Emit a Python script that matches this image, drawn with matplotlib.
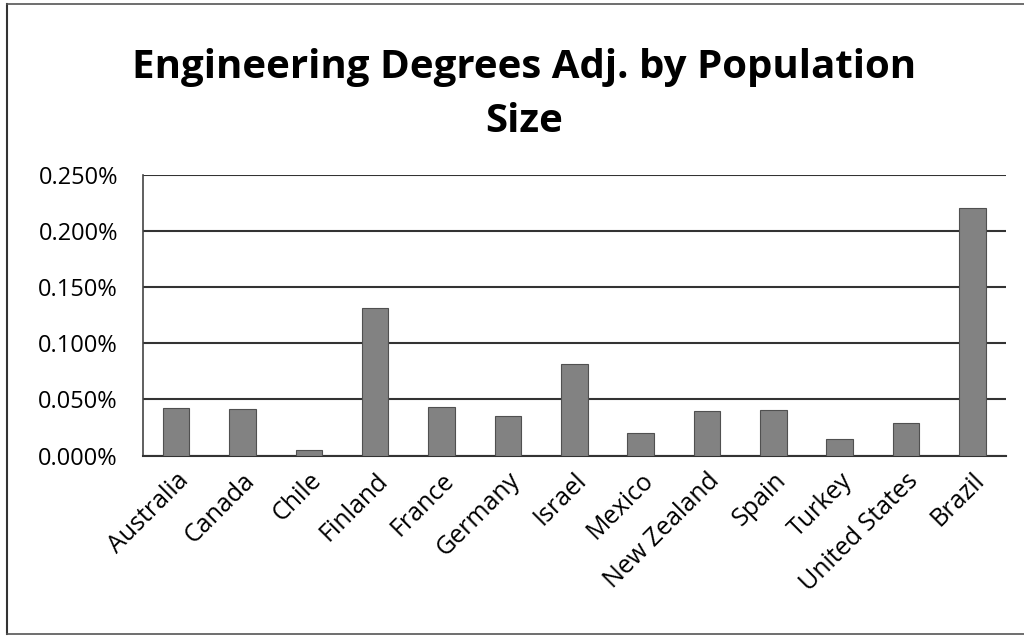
import matplotlib
matplotlib.use("Agg")
import matplotlib.pyplot as plt
from matplotlib.lines import Line2D
from matplotlib.ticker import FuncFormatter

countries = ["Australia", "Canada", "Chile", "Finland", "France", "Germany", "Israel",
             "Mexico", "New Zealand", "Spain", "Turkey", "United States", "Brazil"]
# percent of population
values = [0.0425, 0.0416, 0.0045, 0.1318, 0.0432, 0.0352, 0.0819,
          0.0202, 0.0398, 0.0404, 0.0148, 0.0286, 0.2205]
yticks = [0.0, 0.05, 0.10, 0.15, 0.20, 0.25]

plt.rcParams['font.family'] = ['Open Sans', 'DejaVu Sans']

fig = plt.figure(figsize=(10.24, 6.36), dpi=100)
ax = fig.add_axes([0.1396, 0.2838, 0.8424, 0.441])

x = range(len(countries))
ax.bar(x, values, width=0.4, color='#828282', edgecolor='#505050', linewidth=0.8, zorder=3)

ax.set_xlim(-0.5, len(countries) - 0.5)
ax.set_ylim(0, 0.25)
ax.set_yticks(yticks)
ax.yaxis.set_major_formatter(FuncFormatter(lambda v, p: f"{v:.3f}%"))
ax.grid(axis='y', color='#333333', linewidth=1.5, zorder=0)
ax.set_xticks(list(x))
ax.set_xticklabels(countries, rotation=45, ha='right', rotation_mode='anchor', fontsize=18)
ax.tick_params(axis='y', labelsize=17, length=0, pad=18)
ax.tick_params(axis='x', length=0, pad=9)

for s in ['top', 'right']:
    ax.spines[s].set_visible(False)
ax.spines['left'].set_color('#444444')
ax.spines['left'].set_linewidth(1.2)
ax.spines['bottom'].set_color('#333333')
ax.spines['bottom'].set_linewidth(1.5)

fig.text(0.512, 0.852, "Engineering Degrees Adj. by Population\nSize",
         ha='center', va='center', fontsize=29, fontweight='bold',
         linespacing=1.5)

# outer chart frame (left, top, bottom)
fig.add_artist(Line2D([7/1024, 7/1024], [1 - 4/636, 1 - 634/636], transform=fig.transFigure, color='#333333', lw=1.5))
fig.add_artist(Line2D([7/1024, 1.0], [1 - 4/636, 1 - 4/636], transform=fig.transFigure, color='#555555', lw=1.2))
fig.add_artist(Line2D([7/1024, 1.0], [1 - 634/636, 1 - 634/636], transform=fig.transFigure, color='#555555', lw=1.2))

fig.savefig("out.png", dpi=100)
